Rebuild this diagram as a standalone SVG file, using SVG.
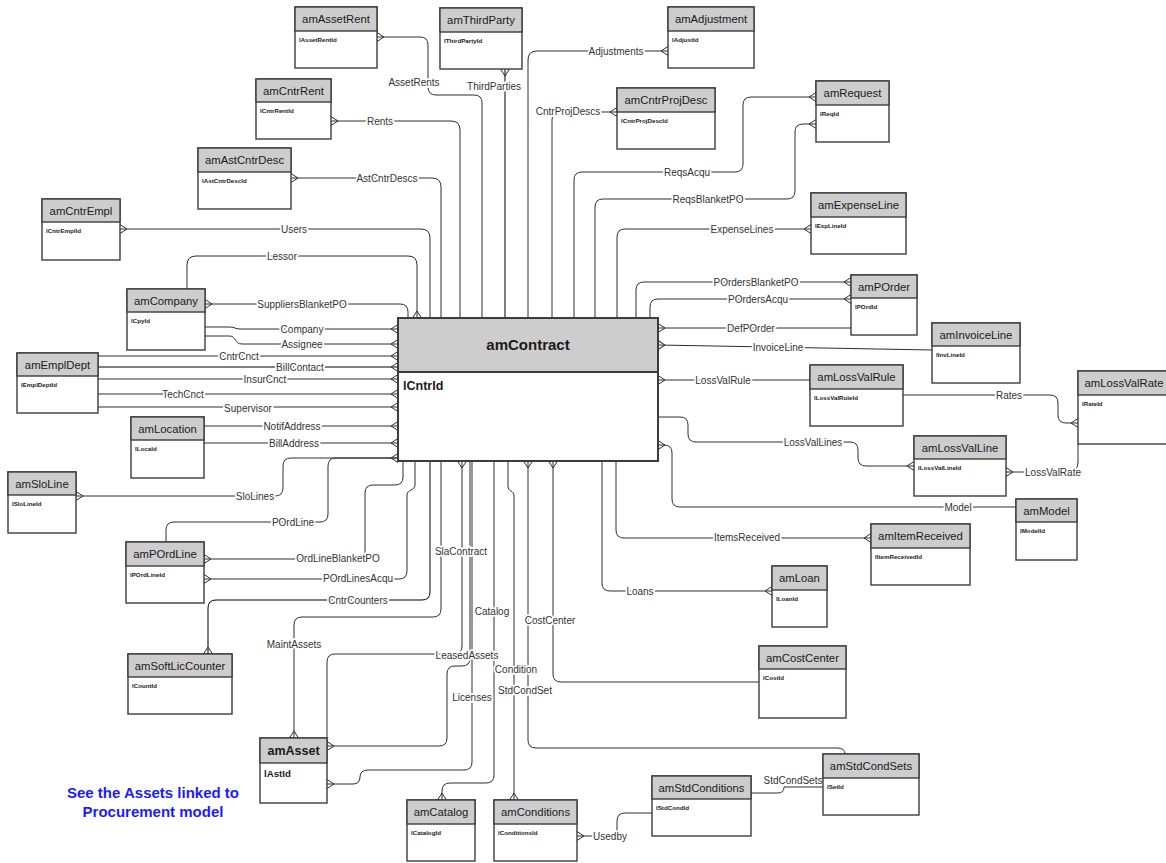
<svg xmlns="http://www.w3.org/2000/svg" width="1166" height="863" viewBox="0 0 1166 863">
<style>
.bx{fill:#fff;stroke:#3c3c3c;stroke-width:1.4}
.hd{fill:#cdcdcd;stroke:#3c3c3c;stroke-width:1.4}
.t{font-family:"Liberation Sans",Arial,sans-serif;font-size:11.3px;fill:#1a1a1a;text-anchor:middle}
.f{font-family:"Liberation Sans",Arial,sans-serif;font-size:6.2px;font-weight:bold;fill:#1a1a1a}
.c{fill:none;stroke:#2e2e2e;stroke-width:1}
.lb{font-family:"Liberation Sans",Arial,sans-serif;font-size:10px;fill:#333;text-anchor:middle;stroke:#fff;stroke-width:3.5;stroke-linejoin:round;paint-order:stroke}
.note{font-family:"Liberation Sans",Arial,sans-serif;font-size:15px;font-weight:bold;fill:#1a1aff;text-anchor:middle}
</style>
<defs>
<marker id="cf" markerUnits="userSpaceOnUse" markerWidth="12" markerHeight="12" viewBox="-9 -6 11 12" refX="0" refY="0" orient="auto-start-reverse" overflow="visible">
<path d="M-7,0 L0,-4.5 M-7,0 L0,4.5" fill="none" stroke="#2e2e2e" stroke-width="1"/>
</marker>
</defs>
<rect width="1166" height="863" fill="#fff"/>

<g id="connectors">
<path class="c" marker-start="url(#cf)" d="M377,37 H420 Q428,37 428,45 V87 Q428,95 436,95 H474 Q482,95 482,103 V318"/>
<path class="c" marker-start="url(#cf)" d="M505,69 V318" style="stroke:#000"/>
<path class="c" marker-start="url(#cf)" d="M668,51 H537 Q528,51 528,60 V318"/>
<path class="c" marker-start="url(#cf)" d="M617,112 H560 Q552,112 552,120 V318"/>
<path class="c" marker-start="url(#cf)" d="M331,121 H451 Q460,121 460,130 V318"/>
<path class="c" marker-start="url(#cf)" d="M291,178 H432 Q441,178 441,187 V318"/>
<path class="c" marker-start="url(#cf)" d="M120,229 H421 Q430,229 430,238 V318"/>
<path class="c" marker-end="url(#cf)" d="M187,289 V265 Q187,256 196,256 H408 Q417,256 417,265 V318"/>
<path class="c" marker-start="url(#cf)" d="M205,304 H400 Q408,304 408,312 V318"/>
<path class="c" marker-end="url(#cf)" d="M205,327 H230 C235,327 235,329 240,329 H398"/>
<path class="c" marker-end="url(#cf)" d="M205,336 H229 C237,336 234,344 242,344 H398"/>
<path class="c" marker-end="url(#cf)" d="M98,356 H398"/>
<path class="c" marker-end="url(#cf)" d="M98,367 H398" style="stroke:#000"/>
<path class="c" marker-end="url(#cf)" d="M98,379 H398"/>
<path class="c" marker-end="url(#cf)" d="M98,394 H398"/>
<path class="c" marker-end="url(#cf)" d="M98,407 H398"/>
<path class="c" marker-end="url(#cf)" d="M204,426 H398"/>
<path class="c" marker-end="url(#cf)" d="M204,443 H398"/>
<path class="c" marker-start="url(#cf)" marker-end="url(#cf)" d="M76,496 H275 Q283,496 283,488 V466 Q283,458 291,458 H398"/>
<path class="c" d="M166,542 V530 Q166,522 174,522 H320 Q328,522 328,514 V466 Q328,458 336,458 H398"/>
<path class="c" marker-start="url(#cf)" d="M204,559 H357 Q365,559 365,551 V493 Q365,485 373,485 H395 Q403,485 403,477 V461"/>
<path class="c" marker-start="url(#cf)" d="M204,579 H399 Q407,579 407,571 V495 C407,489 415,491 415,485 V461"/>
<path class="c" marker-end="url(#cf)" d="M430,461 V592 Q430,600 422,600 H216 Q208,600 208,608 V654" style="stroke:#000"/>
<path class="c" marker-end="url(#cf)" d="M441,461 V609 Q441,617 433,617 H302 Q294,617 294,625 V738"/>
<path class="c" marker-start="url(#cf)" d="M462,461 V646 Q462,654 454,654 H335 Q327,654 327,662 V738"/>
<path class="c" marker-end="url(#cf)" d="M470,461 V658 Q470,666 462,666 H455 Q447,666 447,674 V738 Q447,746 439,746 H327"/>
<path class="c" marker-end="url(#cf)" d="M472,461 V762 Q472,770 464,770 H368 Q360,770 360,777 Q360,784 353,784 H327"/>
<path class="c" marker-end="url(#cf)" d="M494,461 V775 Q494,783 486,783 H450 Q442,783 442,791 V800"/>
<path class="c" marker-end="url(#cf)" d="M508,461 V486 C508,492 514,490 514,496 V800"/>
<path class="c" marker-start="url(#cf)" d="M528,461 V740 Q528,748 536,748 H837 Q845,748 845,754"/>
<path class="c" marker-start="url(#cf)" d="M553,461 V674 Q553,682 561,682 H759"/>
<path class="c" marker-end="url(#cf)" d="M602,461 V583 Q602,591 610,591 H772"/>
<path class="c" marker-end="url(#cf)" d="M616,461 V530 Q616,538 624,538 H871"/>
<path class="c" marker-start="url(#cf)" d="M658,445 H664 Q672,445 672,453 V499 Q672,507 680,507 H1016"/>
<path class="c" marker-end="url(#cf)" d="M658,417 H680 Q688,417 688,425 V434 Q688,442 696,442 H850 Q858,442 858,450 V458 Q858,466 866,466 H914"/>
<path class="c" marker-start="url(#cf)" d="M658,380 H810"/>
<path class="c" marker-start="url(#cf)" d="M658,345 L932,350"/>
<path class="c" marker-start="url(#cf)" d="M658,328 H851"/>
<path class="c" marker-start="url(#cf)" d="M851,299 H658 Q650,299 650,307 V318"/>
<path class="c" marker-start="url(#cf)" d="M851,282 H644 Q636,282 636,290 V318"/>
<path class="c" marker-start="url(#cf)" d="M811,229 H625 Q617,229 617,237 V318"/>
<path class="c" marker-start="url(#cf)" d="M816,124 H803 Q795,124 795,132 V191 Q795,199 787,199 H603 Q595,199 595,207 V318"/>
<path class="c" marker-start="url(#cf)" d="M816,97 H751 Q743,97 743,105 V164 Q743,172 735,172 H582 Q574,172 574,180 V318"/>
<path class="c" marker-end="url(#cf)" d="M903,395 H1050 Q1058,395 1058,403 V415 Q1058,423 1066,423 H1078"/>
<path class="c" marker-start="url(#cf)" d="M1006,472 H1068 Q1078,472 1078,462 V444"/>
<path class="c" d="M751,793 H778 Q784,793 784,787 H823"/>
<path class="c" marker-start="url(#cf)" d="M577,836 H610 Q617,836 617,829 V821 Q617,813 625,813 H652"/>

<text class="lb" x="414" y="85.5">AssetRents</text>
<text class="lb" x="494" y="89.5">ThirdParties</text>
<text class="lb" x="616" y="54.5">Adjustments</text>
<text class="lb" x="568" y="114.5">CntrProjDescs</text>
<text class="lb" x="380" y="124.5">Rents</text>
<text class="lb" x="387" y="181.5">AstCntrDescs</text>
<text class="lb" x="294" y="232.5">Users</text>
<text class="lb" x="282" y="259.5">Lessor</text>
<text class="lb" x="302" y="307.5">SuppliersBlanketPO</text>
<text class="lb" x="302" y="332.5">Company</text>
<text class="lb" x="302" y="347.5">Assignee</text>
<text class="lb" x="239" y="359.5">CntrCnct</text>
<text class="lb" x="300" y="370.5">BillContact</text>
<text class="lb" x="265" y="382.5">InsurCnct</text>
<text class="lb" x="183" y="397.5">TechCnct</text>
<text class="lb" x="248" y="411.5">Supervisor</text>
<text class="lb" x="292" y="429.5">NotifAddress</text>
<text class="lb" x="294" y="446.5">BillAddress</text>
<text class="lb" x="255" y="499.5">SloLines</text>
<text class="lb" x="293" y="525.5">POrdLine</text>
<text class="lb" x="338" y="561.5">OrdLineBlanketPO</text>
<text class="lb" x="358" y="581.5">POrdLinesAcqu</text>
<text class="lb" x="358" y="603.5">CntrCounters</text>
<text class="lb" x="294" y="647.5">MaintAssets</text>
<text class="lb" x="461" y="554.5">SlaContract</text>
<text class="lb" x="467" y="658.5">LeasedAssets</text>
<text class="lb" x="472" y="700.5">Licenses</text>
<text class="lb" x="492" y="614.5">Catalog</text>
<text class="lb" x="516" y="672.5">Condition</text>
<text class="lb" x="525" y="693.5">StdCondSet</text>
<text class="lb" x="550" y="623.5">CostCenter</text>
<text class="lb" x="640" y="594.5">Loans</text>
<text class="lb" x="747" y="540.5">ItemsReceived</text>
<text class="lb" x="958" y="510.5">Model</text>
<text class="lb" x="813" y="445.5">LossValLines</text>
<text class="lb" x="723" y="383.5">LossValRule</text>
<text class="lb" x="778" y="350.5">InvoiceLine</text>
<text class="lb" x="751" y="331.5">DefPOrder</text>
<text class="lb" x="758" y="302.5">POrdersAcqu</text>
<text class="lb" x="756" y="285.5">POrdersBlanketPO</text>
<text class="lb" x="742" y="232.5">ExpenseLines</text>
<text class="lb" x="708" y="202.5">ReqsBlanketPO</text>
<text class="lb" x="687" y="175.5">ReqsAcqu</text>
<text class="lb" x="1009" y="398.5">Rates</text>
<text class="lb" x="1053" y="475.5">LossValRate</text>
<text class="lb" x="793" y="783.5">StdCondSets</text>
<text class="lb" x="610" y="839.5">Usedby</text>
</g>

<g id="amContract" transform="translate(398,318)"><rect class="bx" width="260" height="143" style="stroke-width:2"/><rect class="hd" width="260" height="54" style="stroke-width:2"/><text class="t" x="130" y="32" style="font-size:15px;font-weight:bold">amContract</text><text class="f" x="5" y="72" style="font-size:12.5px">lCntrId</text></g>
<g id="amAssetRent" transform="translate(295,7)"><rect class="bx" width="82" height="61"/><rect class="hd" width="82" height="24"/><text class="t" x="41" y="16">amAssetRent</text><text class="f" x="4" y="35">lAssetRentId</text></g>
<g id="amThirdParty" transform="translate(440,8)"><rect class="bx" width="82" height="61"/><rect class="hd" width="82" height="24"/><text class="t" x="41" y="16">amThirdParty</text><text class="f" x="4" y="35">lThirdPartyId</text></g>
<g id="amAdjustment" transform="translate(668,7)"><rect class="bx" width="86" height="61"/><rect class="hd" width="86" height="24"/><text class="t" x="43" y="16">amAdjustment</text><text class="f" x="4" y="35">lAdjustId</text></g>
<g id="amCntrRent" transform="translate(256,79)"><rect class="bx" width="75" height="60"/><rect class="hd" width="75" height="23"/><text class="t" x="37.5" y="16">amCntrRent</text><text class="f" x="4" y="34">lCntrRentId</text></g>
<g id="amCntrProjDesc" transform="translate(617,88)"><rect class="bx" width="98" height="61"/><rect class="hd" width="98" height="24"/><text class="t" x="49" y="16">amCntrProjDesc</text><text class="f" x="4" y="35">lCntrProjDescId</text></g>
<g id="amRequest" transform="translate(816,81)"><rect class="bx" width="73" height="61"/><rect class="hd" width="73" height="24"/><text class="t" x="36.5" y="16">amRequest</text><text class="f" x="4" y="35">lReqId</text></g>
<g id="amAstCntrDesc" transform="translate(198,148)"><rect class="bx" width="93" height="61"/><rect class="hd" width="93" height="24"/><text class="t" x="46.5" y="16">amAstCntrDesc</text><text class="f" x="4" y="35">lAstCntrDescId</text></g>
<g id="amCntrEmpl" transform="translate(42,199)"><rect class="bx" width="78" height="61"/><rect class="hd" width="78" height="23"/><text class="t" x="39" y="16">amCntrEmpl</text><text class="f" x="4" y="34">lCntrEmplId</text></g>
<g id="amExpenseLine" transform="translate(811,193)"><rect class="bx" width="95" height="61"/><rect class="hd" width="95" height="24"/><text class="t" x="47.5" y="16">amExpenseLine</text><text class="f" x="4" y="35">lExpLineId</text></g>
<g id="amCompany" transform="translate(127,289)"><rect class="bx" width="78" height="61"/><rect class="hd" width="78" height="23"/><text class="t" x="39" y="16">amCompany</text><text class="f" x="4" y="34">lCpyId</text></g>
<g id="amPOrder" transform="translate(851,275)"><rect class="bx" width="66" height="60"/><rect class="hd" width="66" height="23"/><text class="t" x="33" y="16">amPOrder</text><text class="f" x="4" y="34">lPOrdId</text></g>
<g id="amInvoiceLine" transform="translate(932,323)"><rect class="bx" width="88" height="60"/><rect class="hd" width="88" height="23"/><text class="t" x="44" y="16">amInvoiceLine</text><text class="f" x="4" y="34">lInvLineId</text></g>
<g id="amEmplDept" transform="translate(17,353)"><rect class="bx" width="81" height="60"/><rect class="hd" width="81" height="23"/><text class="t" x="40.5" y="16">amEmplDept</text><text class="f" x="4" y="34">lEmplDeptId</text></g>
<g id="amLossValRule" transform="translate(810,365)"><rect class="bx" width="93" height="61"/><rect class="hd" width="93" height="24"/><text class="t" x="46.5" y="16">amLossValRule</text><text class="f" x="4" y="35">lLossValRuleId</text></g>
<g id="amLossValRate" transform="translate(1078,371)"><rect class="bx" width="92" height="73"/><rect class="hd" width="92" height="24"/><text class="t" x="46" y="16">amLossValRate</text><text class="f" x="4" y="35">lRateId</text></g>
<g id="amLocation" transform="translate(131,417)"><rect class="bx" width="73" height="61"/><rect class="hd" width="73" height="23"/><text class="t" x="36.5" y="16">amLocation</text><text class="f" x="4" y="34">lLocaId</text></g>
<g id="amLossValLine" transform="translate(914,436)"><rect class="bx" width="92" height="60"/><rect class="hd" width="92" height="23"/><text class="t" x="46" y="16">amLossValLine</text><text class="f" x="4" y="34">lLossValLineId</text></g>
<g id="amSloLine" transform="translate(8,472)"><rect class="bx" width="68" height="61"/><rect class="hd" width="68" height="23"/><text class="t" x="34" y="16">amSloLine</text><text class="f" x="4" y="34">lSloLineId</text></g>
<g id="amModel" transform="translate(1016,499)"><rect class="bx" width="61" height="61"/><rect class="hd" width="61" height="23"/><text class="t" x="30.5" y="16">amModel</text><text class="f" x="4" y="34">lModelId</text></g>
<g id="amItemReceived" transform="translate(871,524)"><rect class="bx" width="99" height="61"/><rect class="hd" width="99" height="24"/><text class="t" x="49.5" y="16">amItemReceived</text><text class="f" x="4" y="35">lItemReceivedId</text></g>
<g id="amPOrdLine" transform="translate(126,542)"><rect class="bx" width="78" height="61"/><rect class="hd" width="78" height="24"/><text class="t" x="39" y="16">amPOrdLine</text><text class="f" x="4" y="35">lPOrdLineId</text></g>
<g id="amLoan" transform="translate(772,566)"><rect class="bx" width="55" height="61"/><rect class="hd" width="55" height="24"/><text class="t" x="27.5" y="16">amLoan</text><text class="f" x="4" y="35">lLoanId</text></g>
<g id="amSoftLicCounter" transform="translate(128,654)"><rect class="bx" width="104" height="60"/><rect class="hd" width="104" height="23"/><text class="t" x="52" y="16">amSoftLicCounter</text><text class="f" x="4" y="34">lCountId</text></g>
<g id="amCostCenter" transform="translate(759,646)"><rect class="bx" width="87" height="72"/><rect class="hd" width="87" height="23"/><text class="t" x="43.5" y="16">amCostCenter</text><text class="f" x="4" y="34">lCostId</text></g>
<g id="amAsset" transform="translate(260,738)"><rect class="bx" width="67" height="65"/><rect class="hd" width="67" height="25"/><text class="t" x="33.5" y="17" style="font-size:12.5px;font-weight:bold">amAsset</text><text class="f" x="4" y="39" style="font-size:9.7px">lAstId</text></g>
<g id="amStdCondSets" transform="translate(823,754)"><rect class="bx" width="96" height="61"/><rect class="hd" width="96" height="24"/><text class="t" x="48" y="16">amStdCondSets</text><text class="f" x="4" y="35">lSetId</text></g>
<g id="amStdConditions" transform="translate(652,776)"><rect class="bx" width="99" height="60"/><rect class="hd" width="99" height="23"/><text class="t" x="49.5" y="16">amStdConditions</text><text class="f" x="4" y="34">lStdCondId</text></g>
<g id="amCatalog" transform="translate(407,800)"><rect class="bx" width="68" height="61"/><rect class="hd" width="68" height="24"/><text class="t" x="34" y="16">amCatalog</text><text class="f" x="4" y="35">lCatalogId</text></g>
<g id="amConditions" transform="translate(494,800)"><rect class="bx" width="83" height="61"/><rect class="hd" width="83" height="24"/><text class="t" x="41.5" y="16">amConditions</text><text class="f" x="4" y="35">lConditionsId</text></g>

<g id="note">
<text class="note" x="153" y="798">See the Assets linked to</text>
<text class="note" x="153" y="817">Procurement model</text>
</g>
</svg>
